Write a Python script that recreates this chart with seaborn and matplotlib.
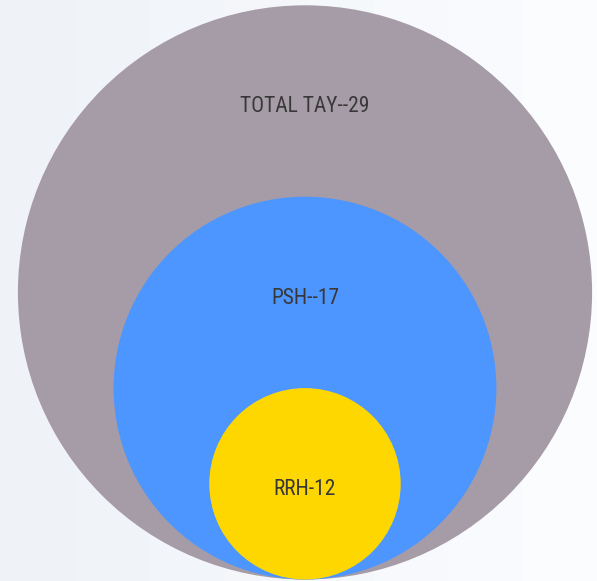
import numpy as np
import pandas as pd
import seaborn as sns
import matplotlib.pyplot as plt

# data
groups = ["TOTAL TAY", "PSH", "RRH"]
values = [29, 17, 12]
labels = ["TOTAL TAY--29", "PSH--17", "RRH-12"]
colors = ["#a69ca7", "#4d96ff", "#ffd700"]

W, H, DPI = 597, 581, 100
cx, base = 305, 579.5
unit = 95.7

sns.set_theme(style="white")
plt.rcParams['font.family'] = ['Roboto Condensed', 'DejaVu Sans']

df = pd.DataFrame({"group": groups, "value": values, "label": labels})
# nested circles, radius by rank, all resting on the same bottom point
rank = df["value"].rank(ascending=False).astype(int)
df["r"] = unit * (len(df) + 1 - rank)
df["x"] = cx
df["y"] = base - df["r"]
df["s"] = (2 * df["r"] * 72 / DPI) ** 2

fig = plt.figure(figsize=(W / DPI, H / DPI), dpi=DPI)
ax = fig.add_axes([0, 0, 1, 1])

# soft left-to-right background gradient
grad = np.linspace(0, 1, 8).reshape(1, -1)
c0 = np.array([239, 243, 248]) / 255
c1 = np.array([251, 252, 254]) / 255
img = c0 + (c1 - c0) * grad[..., None]
ax.imshow(img, extent=[0, W, H, 0], aspect="auto", zorder=0)

sns.scatterplot(data=df, x="x", y="y", hue="group", size="group",
                sizes=dict(zip(df["group"], df["s"])),
                palette=dict(zip(groups, colors)),
                hue_order=groups, size_order=groups,
                linewidth=0, legend=False, ax=ax, zorder=2)

# labels sit in the visible band of each circle
tops = list(df["y"] - df["r"]) + [None]
for i, row in df.iterrows():
    if i + 1 < len(df):
        ty = (tops[i] + tops[i + 1]) / 2
    else:
        ty = row["y"]
    ax.text(row["x"], ty + 6, row["label"], ha="center", va="center",
            fontsize=15.5, color="#383838", zorder=3)

ax.set_xlim(0, W)
ax.set_ylim(H, 0)
ax.set_xlabel("")
ax.set_ylabel("")
ax.axis("off")

fig.savefig("out.png", dpi=DPI)
